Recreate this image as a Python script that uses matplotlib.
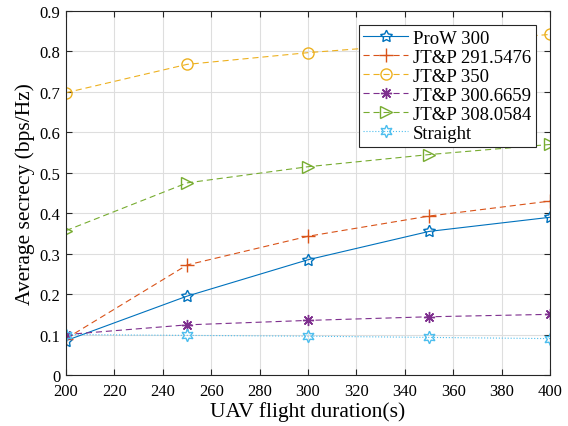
import matplotlib.pyplot as plt
import numpy as np

plt.rcParams['font.family'] = ['Liberation Serif', 'DejaVu Serif']
plt.rcParams['lines.dashed_pattern'] = (5.5, 3.5)

duration = [200, 250, 300, 350, 400]
prow_300 = [0.085, 0.195, 0.285, 0.355, 0.39]
jtp_2915 = [0.09, 0.272, 0.343, 0.393, 0.43]
jtp_350 = [0.698, 0.768, 0.797, 0.82, 0.842]
jtp_3007 = [0.1, 0.124, 0.135, 0.144, 0.15]
jtp_3081 = [0.357, 0.475, 0.515, 0.545, 0.57]
straight = [0.1, 0.098, 0.096, 0.093, 0.09]

fig = plt.figure(figsize=(5.68, 4.27), dpi=100)
ax = fig.add_axes([0.1162, 0.1194, 0.8521, 0.8525])

ax.plot(duration, prow_300, '-', color='#0072BD', marker=(5, 1, 0), mfc='none', ms=9, lw=0.8, label='ProW 300')
ax.plot(duration, jtp_2915, '--', color='#D95319', marker='+', ms=10, lw=0.8, label='JT&P 291.5476')
ax.plot(duration, jtp_350, '--', color='#EDB120', marker='o', mfc='none', ms=8, lw=0.8, label='JT&P 350')
ax.plot(duration, jtp_3007, '--', color='#7E2F8E', marker=(8, 2, 0), ms=8, lw=0.8, label='JT&P 300.6659')
ax.plot(duration, jtp_3081, '--', color='#77AC30', marker='>', mfc='none', ms=9, lw=0.8, label='JT&P 308.0584')
ax.plot(duration, straight, ':', color='#4DBEEE', marker=(6, 1, 0), mfc='none', ms=9, lw=0.8, label='Straight')

ax.set_xlim(200, 400)
ax.set_ylim(0, 0.9)
ax.set_xticks(np.arange(200, 401, 20))
ax.set_yticks(np.arange(0, 0.91, 0.1))
ax.set_yticklabels(['0', '0.1', '0.2', '0.3', '0.4', '0.5', '0.6', '0.7', '0.8', '0.9'])
ax.grid(True, color='#dedede', lw=0.8)
ax.set_axisbelow(True)
ax.tick_params(direction='in', top=True, right=True, labelsize=12, length=4, color='#262626')
ax.tick_params(axis='x', pad=6)
ax.tick_params(axis='y', pad=4)
for s in ax.spines.values():
    s.set_color('#262626')
    s.set_linewidth(0.8)

ax.set_xlabel('UAV flight duration(s)', fontsize=15.5, labelpad=1)
ax.set_ylabel('Average secrecy (bps/Hz)', fontsize=15.5, labelpad=3)

leg = ax.legend(loc='upper right', fontsize=13.5, fancybox=False, edgecolor='#262626',
                framealpha=1, borderaxespad=0.75, handlelength=2.4, labelspacing=0.1,
                borderpad=0.25, handletextpad=0.25)
leg.get_frame().set_linewidth(0.8)

fig.savefig('out.png', dpi=100)
